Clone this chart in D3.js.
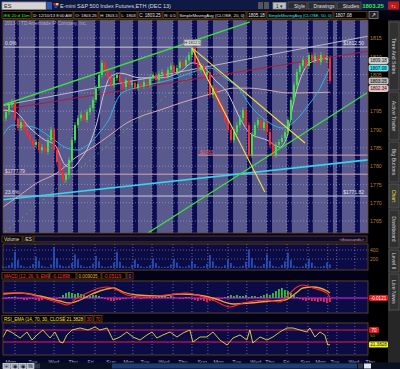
<!DOCTYPE html>
<html>
<head>
<meta charset="UTF-8">
<title>ES 15m chart</title>
<script src="https://d3js.org/d3.v7.min.js"></script>
<style>
    body { margin: 0; background: #050520; }
    svg text { font-family: "Liberation Sans", Arial, sans-serif; }
</style>
</head>
<body>
<script>
// ---- data ----
const closes = [1793.1, 1794.8, 1796.7, 1797.5, 1793.0, 1790.4, 1792.0, 1789.9, 1788.5, 1787.1,
    1785.8, 1786.6, 1784.4, 1785.2, 1783.9, 1787.1, 1789.9, 1784.4, 1781.1, 1778.4,
    1776.2, 1777.6, 1781.7, 1787.1, 1791.2, 1793.1, 1794.0, 1792.6, 1794.8, 1795.9,
    1798.1, 1801.3, 1804.9, 1808.2, 1806.3, 1804.1, 1802.2, 1804.1, 1804.9, 1803.0,
    1801.6, 1803.5, 1802.2, 1802.7, 1801.3, 1802.4, 1801.9, 1803.0, 1802.2, 1804.1,
    1804.9, 1803.5, 1805.2, 1805.7, 1804.6, 1806.3, 1807.4, 1805.7, 1806.8, 1808.4,
    1807.4, 1809.0, 1810.4, 1812.3, 1808.4, 1806.3, 1807.4, 1804.9, 1805.7, 1799.4,
    1801.3, 1798.6, 1796.7, 1794.8, 1792.6, 1789.9, 1787.1, 1789.3, 1791.2, 1793.1,
    1795.3, 1791.2, 1783.0, 1788.5, 1791.2, 1792.6, 1790.4, 1792.0, 1789.3, 1785.8,
    1783.0, 1785.8, 1786.6, 1787.7, 1789.3, 1792.6, 1798.1, 1802.2, 1805.7, 1807.4,
    1809.0, 1807.4, 1810.4, 1809.0, 1810.1, 1808.4, 1810.4, 1809.0, 1809.5, 1803.25];

const volumes = [40, 30, 60, 120, 360, 180, 60, 30, 20, 40, 90, 250, 160, 50, 30, 20, 80, 470, 220, 70,
    40, 30, 50, 110, 300, 190, 60, 30, 25, 40, 100, 270, 150, 40, 20, 30, 50, 120, 360, 140,
    50, 30, 20, 70, 180, 90, 40, 20, 30, 60, 210, 110, 40, 20, 25, 35, 80, 200, 120, 40,
    20, 30, 60, 160, 90, 30, 20, 40, 90, 290, 150, 50, 30, 25, 60, 180, 110, 40, 20, 30,
    50, 140, 410, 220, 60, 30, 40, 90, 300, 160, 50, 30, 20, 70, 150, 340, 180, 50, 30, 20,
    40, 100, 200, 120, 40, 20, 30, 50, 120, 80];

// moving averages: [bar, price]
const smaFast = [[0, 1795.3], [4, 1794.8], [9, 1790.4], [14, 1787.1], [17.3, 1785.8], [20.7, 1780.3], [23, 1779.5],
    [25.7, 1781.7], [29, 1786.3], [31.3, 1791.8], [33.3, 1798.9], [35.7, 1804.3], [39, 1805.4], [45.7, 1804.1],
    [52.3, 1804.1], [59, 1805.7], [63.3, 1808.2], [67.3, 1806.8], [70.7, 1803.5], [74.7, 1800.2], [79, 1793.1],
    [82.3, 1789.0], [88, 1787.1], [92.3, 1785.2], [94.7, 1788.0], [96.7, 1796.7], [99, 1803.5], [102.3, 1808.2], [108, 1809.5]];
const sma50 = [[0, 1788.5], [3.3, 1791.2], [10, 1790.7], [15.7, 1788.0], [21.3, 1784.9], [24.7, 1784.4], [29, 1786.3],
    [32.3, 1789.3], [35.7, 1793.4], [38, 1798.1], [40, 1800.2], [45.7, 1801.6], [51.3, 1802.7], [58, 1804.1],
    [63.3, 1805.7], [69, 1806.8], [74, 1804.1], [79, 1800.8], [82.3, 1796.7], [88, 1792.3], [93.3, 1790.4],
    [96.7, 1791.8], [101.3, 1796.1], [105.7, 1801.3], [109, 1807.1]];
const smaSlow = [[0, 1768.8], [5.7, 1772.1], [11.3, 1775.4], [18, 1778.1], [24, 1782.2], [30, 1785.2], [35.7, 1788.5],
    [41.3, 1791.8], [47.3, 1794.0], [52.3, 1795.3], [59, 1797.2], [65.7, 1798.9], [71.3, 1800.2], [76.7, 1801.3],
    [82.3, 1801.3], [88, 1800.8], [94.7, 1800.0], [99, 1800.0], [109, 1800.2]];

// drawn trend lines: [[bar, price], [bar, price]]
const greenUpper = [[0, 1796.7], [82.3, 1819.4]];
const greenDotted = [[0.7, 1762.0], [70.7, 1810.4]];
const greenLower = [[48.3, 1761.7], [121.3, 1800.0]];
const yellowA = [[63, 1812.3], [100.7, 1786.3]];
const yellowB = [[63, 1812.3], [87.3, 1772.9]];
const cyanLine = [[-1, 1770.7], [121.7, 1781.7]];
const redLine = [[-1, 1795.3], [121.7, 1811.4]];
const greyLine = [[-1, 1796.4], [121.7, 1815.5]];

const fibLevels = [{ p: 1812.5, left: "0.0%", right: "$1812.50" }, { p: 1771.82, left: "23.6%", right: "$1771.82" }];
const pinkLevels = [{ p: 1777.79, from: -1, label: "$1777.79" }, { p: 1783.0, from: 65, label: "$1783" }];

const priceTicks = [1815, 1810, 1805, 1800, 1795, 1790, 1785, 1780, 1775, 1770, 1765];
const priceTickLabels = [1815, 1810, 1805, 1795, 1790, 1785, 1780, 1775, 1770, 1765];
const priceBubbles = [{ v: 1809.18, bg: "#c8c8c8" }, { v: 1807.08, bg: "#22e0f0" }, { v: 1803.25, bg: "#a8a8a8" }, { v: 1802.34, bg: "#f0b4b4" }];

const dayNames = ["Mon", "Tue", "Wed", "Thu", "Fri", "Sun", "Mon", "Tue", "Wed", "Thu", "Sun", "Mon", "Tue", "Wed", "Thu", "Fri", "Sun", "Mon", "Tue", "Wed", "Thu"];
const dayPos = [0.7, 8.3, 15, 21.7, 28, 34.3, 40, 45.7, 51.7, 58.3, 64.7, 70, 76.3, 82.3, 87.3, 93.3, 99, 104, 109, 115, 120.7];
const sessions = [[4, 5.3], [10.7, 12], [17, 18.3], [23.3, 25], [30.7, 32.3], [37.3, 39], [43.3, 45], [49.7, 51.3],
    [56.7, 58.3], [63, 64.7], [68.3, 70], [75, 76.7], [81.3, 83], [88, 89.7], [94.7, 96.3], [101.7, 103.3],
    [108.3, 110], [111.3, 113], [117.3, 119]];

const macdLine = [[0, 0.5], [5.7, 0.5], [12.3, 0.1], [19, -0.5], [21.3, -0.7], [24.7, 0], [28, 0.5], [32.3, 1.0], [34.7, 1.1],
    [38, 0.8], [41.3, 0.3], [46.7, 0.1], [54.7, 0.3], [61.3, 0.5], [65.7, 0.2], [70, -0.2], [75.7, -0.9], [80, -0.5],
    [88, -0.2], [92.3, -0.4], [95.7, 0.5], [98, 1.1], [100, 1.3], [103.3, 1.0], [108, 0.5], [109, 0.1]];
const macdSignal = [[0, 0.4], [5.7, 0.5], [12.3, 0.2], [19, -0.3], [22.3, -0.5], [25.7, -0.2], [29, 0.3], [33.3, 0.8],
    [36.7, 1.0], [40, 0.6], [44.7, 0.3], [52.3, 0.2], [59, 0.4], [65, 0.3], [70, 0.0], [76.7, -0.6], [82.3, -0.5],
    [89, -0.3], [94, -0.2], [97.7, 0.5], [100, 1.0], [103.3, 1.1], [108, 0.7], [109, 0.5]];
const macdHist = [-0.1, -0.1, 0.1, 0.1, 0.1, -0.1, -0.1, -0.2, -0.2, -0.1,
    -0.1, -0.2, -0.3, -0.2, -0.1, -0.2, -0.3, -0.2, -0.1, 0.1,
    0.3, 0.5, 0.6, 0.5, 0.4, 0.5, 0.4, 0.3, 0.2, 0.2,
    0.3, 0.3, 0.2, 0.1, -0.1, -0.2, -0.3, -0.3, -0.2, -0.2,
    -0.1, -0.1, 0.0, 0.1, 0.1, 0.0, -0.1, 0.1, 0.1, 0.2,
    0.2, 0.1, 0.2, 0.3, 0.2, 0.1, 0.2, 0.1, 0.0, -0.1,
    -0.1, 0.1, 0.1, -0.1, -0.2, -0.3, -0.2, -0.3, -0.4, -0.3,
    -0.3, -0.2, -0.2, -0.1, 0.1, 0.2, 0.3, 0.2, 0.3, 0.2,
    0.2, 0.3, 0.1, 0.2, 0.2, 0.1, 0.2, 0.3, 0.4, 0.3,
    0.5, 0.7, 0.9, 1.0, 0.8, 0.7, 0.5, 0.3, 0.1, -0.1,
    -0.2, -0.3, -0.2, -0.3, -0.3, -0.4, -0.3, -0.4, -0.5, -0.4];

const rsi = [[0, 46.7], [1.3, 70], [3.3, 60], [5.7, 43.3], [8, 63.3], [9.7, 36.7], [11.3, 53.3], [13.3, 70], [15.7, 43.3],
    [17.3, 63.3], [19, 30], [20, 26.7], [21.3, 53.3], [23, 70], [25.7, 76.7], [28.3, 70], [30.7, 80], [32.3, 70],
    [34.7, 76.7], [36.7, 36.7], [39, 46.7], [41.3, 63.3], [43.3, 46.7], [45.7, 36.7], [48, 53.3], [49.7, 63.3],
    [51.3, 43.3], [53.3, 53.3], [55.7, 63.3], [58, 46.7], [60, 60], [62.3, 70], [63.3, 30], [65.7, 46.7], [68, 46.7],
    [70, 63.3], [72.3, 36.7], [74.7, 20], [76.7, 43.3], [79, 53.3], [81.3, 36.7], [82.3, 70], [83.3, 26.7], [85.7, 46.7],
    [88, 36.7], [90, 46.7], [92.3, 63.3], [94.7, 76.7], [96.7, 76.7], [99, 70], [101.3, 63.3], [102.3, 76.7], [104, 46.7],
    [105.7, 63.3], [107.3, 53.3], [108.3, 20], [109, 21.4]];

const infoBoxes = [
    { x: 2, w: 29, t: "/ES 20 d 15m", c: "#3cf03c" },
    { x: 32, w: 41, t: "D: 12/10/13 8:00 AM", c: "#e8e8e8" },
    { x: 74, w: 24, t: "O: 1803.25", c: "#e8e8e8" },
    { x: 99, w: 20, t: "H: 1803.5", c: "#e8e8e8" },
    { x: 120, w: 17, t: "L: 1803", c: "#e8e8e8" },
    { x: 138, w: 24, t: "C: 1803.25", c: "#e8e8e8" },
    { x: 163, w: 14, t: "R: 0.5", c: "#e8e8e8" },
    { x: 178, w: 68, t: "SimpleMovingAvg (CLOSE, 20, 0)", c: "#e8e8e8" },
    { x: 247, w: 19, t: "1805.18", c: "#e8e8e8" },
    { x: 267, w: 66, t: "SimpleMovingAvg (CLOSE, 50, 0)", c: "#30e8f8" },
    { x: 334, w: 33, t: "1807.08", c: "#e8e8e8" }];
const tabs = [{ t: "Time And Sales", y0: 22, y1: 90 }, { t: "Active Trader", y0: 92, y1: 140 }, { t: "Big Buttons", y0: 142, y1: 182 },
    { t: "Chart", y0: 184, y1: 208, on: true }, { t: "Dashboard", y0: 210, y1: 248 }, { t: "Level II", y0: 250, y1: 272 },
    { t: "Live News", y0: 274, y1: 310 }];

// ---- layout ----
const W = 400, H = 369;
const L = 3, R = 368;
const main = { top: 20, bottom: 233 };
const volP = { top: 244, bottom: 270 };
const macdP = { top: 281, bottom: 313 };
const rsiP = { top: 323, bottom: 355 };

const svg = d3.select("body").append("svg").attr("width", W).attr("height", H);
svg.append("rect").attr("width", W).attr("height", H).attr("fill", "#06062a");

const x = d3.scaleLinear().domain([0, 121.7]).range([L, R]);
const y = d3.scaleLinear().domain([1765, 1815]).range([221, 38]);
const yVol = d3.scaleLinear().domain([0, 400]).range([268, 250]);
const yMacd = d3.scaleLinear().domain([-1.5, 1.7]).range([313, 281]);
const yRsi = d3.scaleLinear().domain([0, 100]).range([351, 321]);

function txt(g, px, py, s, fill, size, anchor) {
    return g.append("text").attr("x", px).attr("y", py).text(s)
        .attr("fill", fill).attr("font-size", size || 5.5).attr("text-anchor", anchor || "start");
}
function box(g, px, py, w, h, fill, stroke) {
    return g.append("rect").attr("x", px).attr("y", py).attr("width", w).attr("height", h)
        .attr("fill", fill).attr("stroke", stroke || "none").attr("stroke-width", 0.8);
}

// ---- top bars ----
box(svg, 0, 0, W, 10.5, "#0e1a44");
box(svg, 2, 2, 44, 7.5, "#d4d4d4", "#8a8a8a");
txt(svg, 4, 8.2, "ES", "#202020", 5.5);
box(svg, 47, 2, 5, 7.5, "#2f58b8");
box(svg, 53.5, 3, 2.5, 2.5, "#e02020"); box(svg, 56, 3, 2.5, 2.5, "#f0d020"); box(svg, 54.5, 5.5, 2.5, 2.5, "#2040e0");
txt(svg, 60, 8, "E-mini S&P 500 Index Futures,ETH (DEC 13)", "#dcdcdc", 5.5);
box(svg, 258, 2, 5, 7, "#555"); box(svg, 264, 2, 5, 7, "#555");
box(svg, 273, 2.5, 13, 6.5, "#c0c0c0", "#888"); txt(svg, 279.5, 7.8, "1 ▾", "#222", 4.5, "middle");
[["Style", 288, 19], ["Drawings", 308, 28], ["Studies", 337, 24]].forEach(b => {
    box(svg, b[1], 2, b[2], 7, "#2a2a30", "#555");
    txt(svg, b[1] + b[2] / 2 + 2, 7.8, b[0], "#e0e0e0", 5, "middle");
});
txt(svg, 373, 8, "1803.25", "#30f040", 6, "middle").attr("font-weight", "bold");
box(svg, 388, 1.5, 11, 8, "#c01818");
txt(svg, 393.5, 7.6, "↑↓", "#fff", 5, "middle");

box(svg, 0, 10.5, W, 9.5, "#02020c");
infoBoxes.forEach(b => {
    box(svg, b.x, 11.5, b.w, 7, "#000", "#6b4612");
    const t = txt(svg, b.x + 1.2, 17, b.t, b.c, 4.6);
    const len = t.node().getComputedTextLength();
    if (len > b.w - 2.4) t.attr("font-size", 4.6 * (b.w - 2.4) / len);
});
box(svg, 369, 11.5, 9, 7, "#222", "#888");
txt(svg, 373.5, 17.2, "↗", "#fff", 6, "middle");

// ---- right side: axis column and tabs ----
box(svg, R, 20, 20, 343, "#000");
box(svg, 388, 20, 12, 343, "#262626");
tabs.forEach(t => {
    box(svg, 389, t.y0, 10, t.y1 - t.y0, t.on ? "#3a3a3a" : "#303030", "#5a5a5a");
    svg.append("text").attr("transform", `translate(392,${(t.y0 + t.y1) / 2}) rotate(90)`)
        .attr("text-anchor", "middle").attr("font-size", 5.2).attr("fill", t.on ? "#f0e040" : "#d0d0d0").text(t.t);
});

// ---- main price panel ----
const mainG = svg.append("g");
svg.append("defs").append("clipPath").attr("id", "clipMain")
    .append("rect").attr("x", L).attr("y", main.top).attr("width", R - L).attr("height", main.bottom - main.top);
box(mainG, L, main.top, R - L, main.bottom - main.top, "#5a598e");
mainG.selectAll(".sess").data(sessions).enter().append("rect")
    .attr("x", d => x(d[0])).attr("width", d => x(d[1]) - x(d[0]))
    .attr("y", main.top).attr("height", main.bottom - main.top).attr("fill", "#0c0c52");

// grid
mainG.selectAll(".hg").data(priceTicks).enter().append("line")
    .attr("x1", L).attr("x2", R).attr("y1", d => y(d)).attr("y2", d => y(d))
    .attr("stroke", "#b8b8d8").attr("stroke-width", 0.5).attr("stroke-dasharray", "1,2");
function vGrid(g, top, bottom) {
    g.selectAll(".vg").data(sessions).enter().append("line")
        .attr("x1", d => x(d[0])).attr("x2", d => x(d[0])).attr("y1", top).attr("y2", bottom)
        .attr("stroke", "#c0c0e0").attr("stroke-width", 0.5).attr("stroke-dasharray", "1,2");
}
vGrid(mainG, main.top, main.bottom);

txt(mainG, 5, 25, "2013 © TD Ameritrade IP Company, Inc.", "#a8a8c8", 4.6);

const plot = mainG.append("g").attr("clip-path", "url(#clipMain)");
const lineGen = d3.line().x(d => x(d[0])).y(d => y(d[1]));

// horizontal levels
fibLevels.forEach(f => {
    plot.append("line").attr("x1", L).attr("x2", R).attr("y1", y(f.p)).attr("y2", y(f.p))
        .attr("stroke", "#c8c8d8").attr("stroke-width", 1);
    txt(plot, 5, y(f.p) - 2, f.left, "#e0e0e8", 5);
    txt(plot, 364, y(f.p) - 2, f.right, "#e0e0e8", 5, "end");
});
pinkLevels.forEach((f, i) => {
    plot.append("line").attr("x1", x(f.from)).attr("x2", R).attr("y1", y(f.p)).attr("y2", y(f.p))
        .attr("stroke", "#d8a0a8").attr("stroke-width", 1);
    txt(plot, x(f.from) + 2 + (i === 0 ? 3 : 0), y(f.p) - 1.5, f.label, i === 0 ? "#f0d8dc" : "#ff6060", 4.8);
});

// drawn lines
[[greyLine, "#b8b8c8", 1], [redLine, "#b01c3c", 1], [cyanLine, "#30d8f0", 1.6]].forEach(l => {
    plot.append("path").datum(l[0]).attr("d", lineGen).attr("fill", "none").attr("stroke", l[1]).attr("stroke-width", l[2]);
});

// moving averages
const curve = d3.line().x(d => x(d[0])).y(d => y(d[1])).curve(d3.curveMonotoneX);
plot.append("path").datum(smaSlow).attr("d", curve).attr("fill", "none").attr("stroke", "#d8a8b0").attr("stroke-width", 1);
plot.append("path").datum(sma50).attr("d", curve).attr("fill", "none").attr("stroke", "#28b8e0").attr("stroke-width", 1);
plot.append("path").datum(smaFast).attr("d", curve).attr("fill", "none").attr("stroke", "#c8c8d4").attr("stroke-width", 1);

// candles
const bars = closes.map((c, i) => ({ i: i, o: i ? closes[i - 1] : c, c: c }));
const cw = 2;
plot.selectAll(".wick").data(bars).enter().append("line")
    .attr("x1", d => x(d.i)).attr("x2", d => x(d.i))
    .attr("y1", d => y(Math.max(d.o, d.c) + 0.8)).attr("y2", d => y(Math.min(d.o, d.c) - 0.8))
    .attr("stroke", d => d.c >= d.o ? "#40e040" : "#ff2a2a").attr("stroke-width", 0.7);
plot.selectAll(".body").data(bars).enter().append("rect")
    .attr("x", d => x(d.i) - cw / 2).attr("width", cw)
    .attr("y", d => y(Math.max(d.o, d.c))).attr("height", d => Math.max(0.8, Math.abs(y(d.o) - y(d.c))))
    .attr("fill", d => d.c >= d.o ? "#40e040" : "#ff2a2a");

// trend lines on top
plot.append("path").datum(greenDotted).attr("d", lineGen).attr("fill", "none")
    .attr("stroke", "#40c040").attr("stroke-width", 1).attr("stroke-dasharray", "1.5,4");
[[greenUpper, "#3ce03c", 1.5], [greenLower, "#3ce03c", 1.2], [yellowA, "#f0e040", 1.1], [yellowB, "#f0e040", 1.1]].forEach(l => {
    plot.append("path").datum(l[0]).attr("d", lineGen).attr("fill", "none").attr("stroke", l[1]).attr("stroke-width", l[2]);
});
box(plot, x(63) - 8, y(1812.3) - 8, 17, 6, "#d8d8d8", "#888");
txt(plot, x(63) + 0.5, y(1812.3) - 3.5, "H:1812.5", "#202020", 4, "middle");

// price axis
const yAxis = svg.append("g").attr("transform", `translate(${R},0)`)
    .call(d3.axisRight(y).tickValues(priceTickLabels).tickSize(0).tickPadding(2).tickFormat(d3.format("d")));
yAxis.select(".domain").remove();
yAxis.selectAll("text").attr("fill", "#b47a3c").attr("font-size", 5.3);
let lastY = 60.5;
priceBubbles.forEach((b, i) => {
    let py = Math.max(y(b.v), i ? lastY + 7.5 : lastY);
    lastY = py;
    box(svg, R + 1, py - 3, 19, 6, b.bg, "#eee").attr("rx", 1.2);
    txt(svg, R + 10.5, py + 1.7, b.v.toFixed(2), "#1a1a1a", 4.6, "middle");
});

// panel borders
function frame(top, bottom) {
    svg.append("rect").attr("x", L).attr("y", top).attr("width", R - L).attr("height", bottom - top)
        .attr("fill", "none").attr("stroke", "#6e4a18").attr("stroke-width", 0.8);
}
frame(main.top, main.bottom);

// ---- volume ----
box(svg, 0, 234.5, R, 8.5, "#030318");
box(svg, 2, 236, 20, 6, "#000", "#6b4612"); txt(svg, 4, 241, "Volume", "#e0e0e0", 4.6);
box(svg, 23, 236, 10, 6, "#000", "#6b4612"); txt(svg, 24.5, 241, "/ES", "#e0e0e0", 4.6);
box(svg, 34, 236, 333, 6, "#0a0a30", "#6b4612");
txt(svg, 364, 241, "<thousands>", "#e0a0a0", 4.3, "end");
box(svg, L, volP.top, R - L, volP.bottom - volP.top, "#0b0b46");
const volG = svg.append("g");
vGrid(volG, volP.top, volP.bottom);
volG.selectAll("line.vh").data([200, 400]).enter().append("line")
    .attr("x1", L).attr("x2", R).attr("y1", d => yVol(d)).attr("y2", d => yVol(d))
    .attr("stroke", "#b0b0d0").attr("stroke-width", 0.5).attr("stroke-dasharray", "1,2");
volG.selectAll("rect.v").data(volumes).enter().append("rect")
    .attr("x", (d, i) => x(i) - 0.8).attr("width", 1.6)
    .attr("y", d => yVol(d)).attr("height", d => yVol(0) - yVol(d)).attr("fill", "#2a56c4");
const volAxis = svg.append("g").attr("transform", `translate(${R},0)`)
    .call(d3.axisRight(yVol).tickValues([200, 400]).tickSize(0).tickPadding(2));
volAxis.select(".domain").remove();
volAxis.selectAll("text").attr("fill", "#b47a3c").attr("font-size", 5);
frame(volP.top, volP.bottom);

// ---- MACD ----
box(svg, 0, 271, R, 9, "#030318");
box(svg, 2, 272.5, 47, 6.5, "#000", "#6b4612"); txt(svg, 4, 277.8, "MACD (12, 26, 9, EMA)", "#ff3838", 4.6);
box(svg, 50, 272.5, 26, 6.5, "#000", "#6b4612"); txt(svg, 52, 277.8, "-0.11898", "#ff3838", 4.6);
box(svg, 77, 272.5, 24, 6.5, "#000", "#6b4612"); txt(svg, 78.5, 277.8, "0.009035", "#f0b040", 4.6);
box(svg, 102, 272.5, 24, 6.5, "#000", "#6b4612"); txt(svg, 103.5, 277.8, "-0.05119", "#ff3838", 4.6);
box(svg, 127, 272.5, 6, 6.5, "#000", "#6b4612"); txt(svg, 128.5, 277.8, "0", "#ff40ff", 4.6);
box(svg, L, macdP.top, R - L, macdP.bottom - macdP.top, "#0b0b46");
const macdG = svg.append("g");
vGrid(macdG, macdP.top, macdP.bottom);
macdG.selectAll("rect.h").data(macdHist).enter().append("rect")
    .attr("x", (d, i) => x(i) - 0.9).attr("width", 1.8)
    .attr("y", d => Math.min(yMacd(d), yMacd(0))).attr("height", d => Math.abs(yMacd(d) - yMacd(0)))
    .attr("fill", d => d >= 0 ? "#30c838" : "#e82850");
macdG.append("line").attr("x1", L).attr("x2", R).attr("y1", yMacd(0)).attr("y2", yMacd(0))
    .attr("stroke", "#f020f0").attr("stroke-width", 1);
const mline = d3.line().x(d => x(d[0])).y(d => yMacd(d[1])).curve(d3.curveMonotoneX);
macdG.append("path").datum(macdSignal).attr("d", mline).attr("fill", "none").attr("stroke", "#f0a030").attr("stroke-width", 1.3);
macdG.append("path").datum(macdLine).attr("d", mline).attr("fill", "none").attr("stroke", "#ff2828").attr("stroke-width", 1.1);
box(svg, R + 1, yMacd(0) - 3, 19, 6, "#e81818").attr("rx", 1.2);
txt(svg, R + 10.5, yMacd(0) + 1.7, "-0.0121", "#fff", 4.6, "middle");
frame(macdP.top, macdP.bottom);

// ---- RSI ----
box(svg, 0, 314, R, 8.5, "#030318");
box(svg, 2, 315.5, 62, 6.5, "#000", "#6b4612"); txt(svg, 4, 320.8, "RSI_EMA (14, 70, 30, CLOSE)", "#f0e040", 4.6);
box(svg, 65, 315.5, 19, 6.5, "#000", "#6b4612"); txt(svg, 66.5, 320.8, "21.3828", "#f0e040", 4.6);
box(svg, 85, 315.5, 8, 6.5, "#000", "#6b4612"); txt(svg, 86.5, 320.8, "30", "#ff3838", 4.6);
box(svg, 94, 315.5, 8, 6.5, "#000", "#6b4612"); txt(svg, 95.5, 320.8, "70", "#ff3838", 4.6);
box(svg, L, rsiP.top, R - L, rsiP.bottom - rsiP.top, "#0b0b46");
const rsiG = svg.append("g");
vGrid(rsiG, rsiP.top, rsiP.bottom);
rsiG.selectAll("line.lv").data([30, 70]).enter().append("line")
    .attr("x1", L).attr("x2", R).attr("y1", d => yRsi(d)).attr("y2", d => yRsi(d))
    .attr("stroke", "#f01848").attr("stroke-width", 1);
rsiG.append("path").datum(rsi).attr("d", d3.line().x(d => x(d[0])).y(d => yRsi(d[1])))
    .attr("fill", "none").attr("stroke", "#e8e040").attr("stroke-width", 0.9);
box(svg, R + 1, yRsi(70) - 3, 10, 6, "#e81818").attr("rx", 1.2);
txt(svg, R + 6, yRsi(70) + 1.7, "70", "#fff", 4.6, "middle");
txt(svg, R + 2, yRsi(50) + 1.4, "50", "#b47a3c", 4.4);
box(svg, R + 1, yRsi(21.38) - 3, 19, 6, "#f0f020").attr("rx", 1.2);
txt(svg, R + 10.5, yRsi(21.38) + 1.7, "21.3828", "#222", 4.6, "middle");
frame(rsiP.top, rsiP.bottom);

// ---- time axis ----
const xAxis = svg.append("g").attr("transform", `translate(0,${rsiP.bottom})`)
    .call(d3.axisBottom(x).tickValues(dayPos).tickSize(0).tickPadding(5).tickFormat((d, i) => dayNames[i]));
xAxis.select(".domain").remove();
xAxis.selectAll("text").attr("fill", "#b0b0c0").attr("font-size", 5.3).attr("text-anchor", "start");

// ---- bottom bar ----
box(svg, 0, 362.5, W, 6.5, "#0a0f22");
[3, 11, 19, 27].forEach((px, i) => {
    box(svg, px, 363.5, 7, 5, "#9aa4b8", "#e0e0e0");
    txt(svg, px + 3.5, 367.8, ["+", "◉", "◉", "%"][i], "#1a2030", 4.5, "middle");
});
box(svg, 35, 363.5, 5, 5, "#303848");
box(svg, 112, 363.5, 245, 5, "#1c3e72");
box(svg, 358, 363.5, 5, 5, "#303848");
box(svg, 364, 363.5, 7, 5, "#dfe4ee");
</script>
</body>
</html>
